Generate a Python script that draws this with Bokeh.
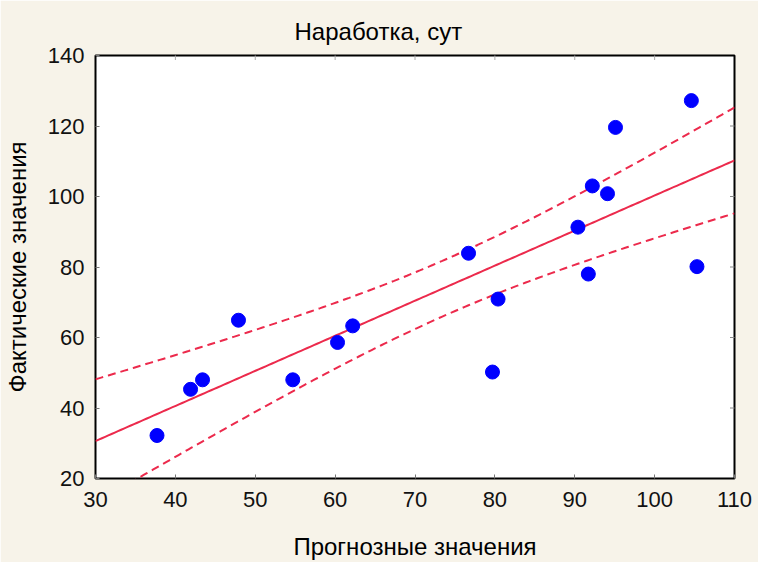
import numpy as np
from bokeh.plotting import figure
from bokeh.models import FixedTicker, Range1d, Title
from bokeh.embed import file_html
from bokeh.resources import INLINE

title_text = "Наработка, сут"
x_label = "Прогнозные значения"
y_label = "Фактические значения"

predicted = [37.7, 41.9, 43.4, 47.9, 54.7, 60.3, 62.2, 76.7, 79.7, 80.4,
             90.4, 91.7, 92.2, 94.1, 95.1, 104.6, 105.3]
actual = [32.2, 45.3, 48.0, 64.9, 48.0, 58.6, 63.3, 83.9, 50.2, 70.9,
          91.3, 78.0, 103.0, 100.8, 119.6, 127.2, 80.1]

x_ticks = [30, 40, 50, 60, 70, 80, 90, 100, 110]
y_ticks = [20, 40, 60, 80, 100, 120, 140]

FONT = "Liberation Sans"
BG = "#f7f3e9"
RED = "#ec2a4c"

# regression fit and 95% confidence band
x = np.array(predicted)
y = np.array(actual)
n = len(x)
b1, b0 = np.polyfit(x, y, 1)
resid = y - (b0 + b1 * x)
s = np.sqrt(np.sum(resid ** 2) / (n - 2))
t = 2.131  # t(0.975, 15)
xs = np.linspace(x_ticks[0], x_ticks[-1], 200)
yfit = b0 + b1 * xs
se = s * np.sqrt(1.0 / n + (xs - x.mean()) ** 2 / np.sum((x - x.mean()) ** 2))
upper = yfit + t * se
lower = yfit - t * se

p = figure(width=758, height=562, output_backend="svg", toolbar_location=None,
           x_range=Range1d(x_ticks[0], x_ticks[-1]), y_range=Range1d(y_ticks[0], y_ticks[-1]),
           min_border_left=95, min_border_right=24, min_border_top=55, min_border_bottom=78)
p.background_fill_color = "white"
p.border_fill_color = BG
p.outline_line_color = "black"
p.outline_line_width = 2
p.grid.visible = False

p.add_layout(Title(text=title_text, align="left", text_font=FONT, text_font_size="24px",
                   text_font_style="normal", text_color="black", offset=199, standoff=21), "above")

for ax in (p.xaxis[0], p.yaxis[0]):
    ax.major_tick_in = 4
    ax.major_tick_out = 0
    ax.minor_tick_in = 0
    ax.minor_tick_out = 0
    ax.major_tick_line_color = "#777777"
    ax.axis_line_color = None
    ax.major_label_text_font = FONT
    ax.major_label_text_font_size = "22px"
    ax.major_label_text_color = "#111111"
    ax.axis_label_text_font = FONT
    ax.axis_label_text_font_size = "24px"
    ax.axis_label_text_font_style = "normal"
    ax.axis_label_text_color = "black"

p.xaxis[0].ticker = FixedTicker(ticks=x_ticks)
p.yaxis[0].ticker = FixedTicker(ticks=y_ticks)
p.xaxis[0].axis_label = x_label
p.yaxis[0].axis_label = y_label
p.xaxis[0].major_label_standoff = 13
p.yaxis[0].major_label_standoff = 11
p.xaxis[0].axis_label_standoff = 23
p.yaxis[0].axis_label_standoff = 14

# inner tick marks on the top and right frame edges
top_x = x_ticks[1:-1]
right_y = y_ticks[1:-1]
p.scatter(top_x, [y_ticks[-1]] * len(top_x), marker="dash", angle=np.pi / 2, size=9,
          line_color="#aaaaaa", line_width=1)
p.scatter([x_ticks[-1]] * len(right_y), right_y, marker="dash", size=9,
          line_color="#888888", line_width=1)

p.line(xs, upper, line_color=RED, line_width=2, line_dash="8 5")
p.line(xs, lower, line_color=RED, line_width=2, line_dash="8 5")
p.line(xs, yfit, line_color=RED, line_width=2)
p.scatter(predicted, actual, size=14, fill_color="#0000ff", line_color="#0000ff")

open("out.html", "w").write(file_html(p, INLINE))
